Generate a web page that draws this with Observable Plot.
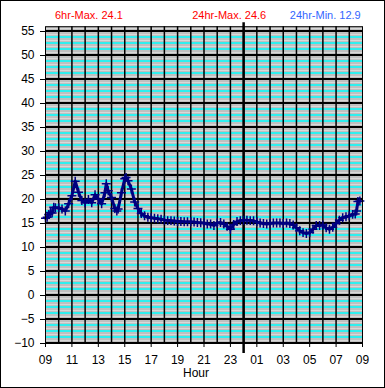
<!DOCTYPE html>
<html><head><meta charset="utf-8">
<script src="https://cdn.jsdelivr.net/npm/d3@7"></script>
<script src="https://cdn.jsdelivr.net/npm/@observablehq/plot@0.6"></script>
<style>
html,body{margin:0;padding:0;background:#fff;}
#wrap{position:relative;width:385px;height:388px;overflow:hidden;}
#border{position:absolute;left:0;top:0;width:385px;height:388px;box-sizing:border-box;border:1px solid #000;pointer-events:none;}
</style></head><body>
<div id="wrap"><div id="border"></div></div>
<script>
// Sample times (hours after 09:00) and temperatures
const hours = [0,0.125,0.25,0.375,0.5,0.625,0.75,1,1.25,1.5,1.75,2,2.25,2.5,2.75,3,3.25,3.5,3.75,4,4.25,4.5,4.6,4.75,5,5.25,5.4,5.5,5.75,6,6.1,6.25,6.5,6.75,7,7.25,7.5,7.75,8,8.25,8.5,8.75,9,9.25,9.5,9.75,10,10.25,10.5,10.75,11,11.25,11.5,11.75,12,12.25,12.5,12.75,13,13.25,13.5,13.75,14,14.25,14.5,14.75,15,15.25,15.5,15.75,16,16.25,16.5,16.75,17,17.25,17.5,17.75,18,18.25,18.5,18.75,19,19.25,19.5,19.75,20,20.25,20.5,20.75,21,21.25,21.5,21.75,22,22.25,22.5,22.75,23,23.25,23.45,23.55,23.65,23.8];
const temps = [16.1,16.3,16.9,17.3,17.2,18.4,18.3,18.3,18.0,17.6,19.1,20.8,23.8,21.5,19.8,19.3,20.0,19.3,21.0,20.1,19.1,21.4,23.3,21.8,20.4,18.1,17.6,18.0,21.4,24.3,24.6,23.9,22.2,19.5,18.1,17.1,16.6,16.3,16.2,16.1,16.0,15.9,15.7,15.6,15.6,15.5,15.4,15.4,15.35,15.35,15.35,15.3,15.2,15.15,15.1,14.9,14.9,14.6,15.1,15.2,14.9,14.4,13.8,14.8,15.4,15.6,15.7,15.7,15.6,15.55,15.35,15.1,15.0,14.9,15.0,15.1,15.1,15.1,15.0,15.1,15.0,14.7,14.1,13.5,13.1,12.9,13.1,13.8,14.6,14.6,14.7,14.1,13.8,14.2,15.0,15.7,16.2,16.4,16.6,16.9,17.0,17.6,19.6,19.7];

const xTickHours = [0,2,4,6,8,10,12,14,16,18,20,22,24];
const xTickLabels = ["09","11","13","15","17","19","21","23","01","03","05","07","09"];
const gridHours = d3.range(1, 24);
const yTicks = [-10,-5,0,5,10,15,20,25,30,35,40,45,50,55];
const yDomain = [-10, 56];
const midnight = [15];
const headerTexts = ["6hr-Max. 24.1", "24hr-Max. 24.6", "24hr-Min. 12.9"];
const axisLabel = "Hour";

const data = hours.map((h, i) => ({h, t: temps[i]}));
const yCyan = [], yLight = [];
for (const a of yTicks) {
  for (const k of [1.25, 2.5, 3.75]) if (a + k <= yDomain[1]) yCyan.push(a + k);
  for (const k of [0.625, 1.875, 3.125, 4.375]) if (a + k <= yDomain[1]) yLight.push(a + k);
}

const chart = Plot.plot({
  width: 385, height: 388,
  marginLeft: 45, marginRight: 23, marginTop: 26.2, marginBottom: 45,
  style: {background: "transparent", fontFamily: "'Liberation Sans', Arial, sans-serif", fontSize: "12px", color: "#000"},
  x: {domain: [0, 24]},
  y: {domain: yDomain},
  marks: [
    Plot.frame({fill: "#c0c0c0"}),
    Plot.ruleY(yLight, {stroke: "#d8d8d8", strokeWidth: 1}),
    Plot.ruleY(yCyan, {stroke: "#00ffff", strokeWidth: 1.5, dy: -0.5}),
    Plot.ruleY(yTicks, {stroke: "#000", strokeWidth: 2, dy: -0.5}),
    Plot.ruleX(gridHours, {stroke: "#000", strokeWidth: 1.5}),
    Plot.ruleX(midnight, {stroke: "#000", strokeWidth: 2.5, insetTop: -4, insetBottom: -10}),
    Plot.line(data, {x: "h", y: "t", stroke: "#000080", strokeWidth: 3}),
    Plot.dot(data, {x: "h", y: "t", symbol: "plus", r: 3, stroke: "#000080", strokeWidth: 1.5}),
    Plot.frame({stroke: "#000"}),
    Plot.axisX({ticks: xTickHours, tickFormat: d => xTickLabels[xTickHours.indexOf(d)], tickSize: 4, tickPadding: 8, label: null}),
    Plot.axisY({ticks: yTicks, tickSize: 5, tickPadding: 6, label: null}),
    Plot.text([headerTexts[0]], {text: d => d, frameAnchor: "top-left", dx: 9.5, dy: -11, textAnchor: "start", lineAnchor: "middle", fill: "#ff0000", fontSize: 11}),
    Plot.text([headerTexts[1]], {text: d => d, frameAnchor: "top-left", dx: 146.7, dy: -11, textAnchor: "start", lineAnchor: "middle", fill: "#ff0000", fontSize: 11}),
    Plot.text([headerTexts[2]], {text: d => d, frameAnchor: "top-left", dx: 244.3, dy: -11, textAnchor: "start", lineAnchor: "middle", fill: "#3366ff", fontSize: 11}),
    Plot.text([axisLabel], {text: d => d, frameAnchor: "bottom", dx: -8, dy: 30, lineAnchor: "middle", fontSize: 12})
  ]
});
document.getElementById("wrap").prepend(chart);
</script>
</body></html>
